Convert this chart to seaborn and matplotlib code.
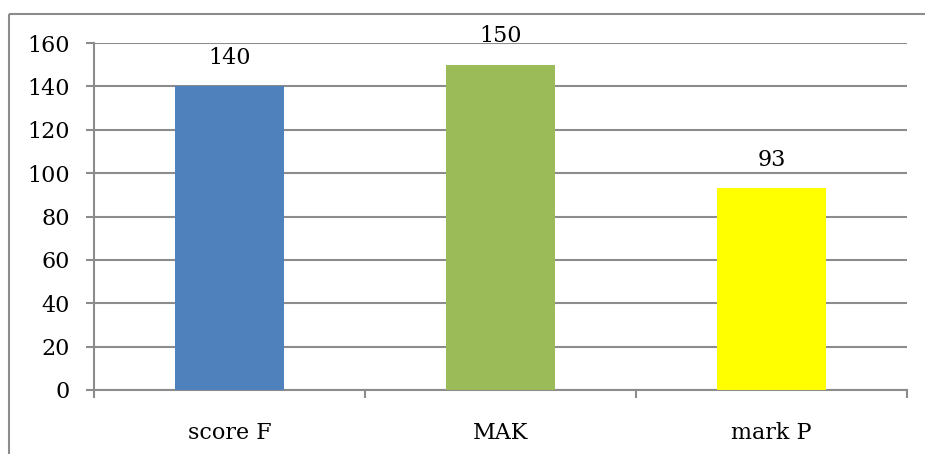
import numpy as np
import pandas as pd
import seaborn as sns
import matplotlib.pyplot as plt
from matplotlib.lines import Line2D
from matplotlib.ticker import FixedLocator

# chart data
categories = ['score F', 'MAK', 'mark P']
values = [140, 150, 93]
bar_colors = ['#4F81BD', '#9BBB59', '#FFFF00']
y_ticks = [0, 20, 40, 60, 80, 100, 120, 140, 160]

grid_color = '#8c8c8c'
fsize = 16
lw = 1.5


def main():
    sns.set_theme(style='white')
    plt.rcParams['font.family'] = ['DejaVu Serif']

    df = pd.DataFrame({'cat': categories, 'val': values})

    fig = plt.figure(figsize=(9.25, 4.54), dpi=100)
    ax = fig.add_axes([94 / 925, 1 - 390 / 454, (907 - 94) / 925, (390 - 43) / 454])

    sns.barplot(data=df, x='cat', y='val', hue='cat', palette=bar_colors,
                legend=False, width=0.4, saturation=1, linewidth=0, ax=ax, zorder=3)

    ax.set_xlim(-0.5, len(categories) - 0.5)
    ax.set_ylim(0, 160)
    ax.set_yticks(y_ticks)
    ax.set_xlabel('')
    ax.set_ylabel('')

    ax.yaxis.grid(True, color=grid_color, linewidth=lw, zorder=0)
    ax.set_axisbelow(True)
    for side in ['top', 'right']:
        ax.spines[side].set_visible(False)
    for side in ['left', 'bottom']:
        ax.spines[side].set_color(grid_color)
        ax.spines[side].set_linewidth(lw)

    # category separators as minor ticks
    ax.xaxis.set_minor_locator(FixedLocator(np.arange(-0.5, len(categories), 1.0)))
    ax.tick_params(axis='x', which='minor', length=5.8, width=lw, color=grid_color,
                   direction='out', bottom=True)
    ax.tick_params(axis='x', which='major', length=0, pad=23, labelsize=fsize,
                   labelcolor='black')
    ax.tick_params(axis='y', which='major', length=5.8, width=lw, color=grid_color,
                   direction='out', left=True, pad=11.5, labelsize=fsize,
                   labelcolor='black')

    # value labels
    for i, v in enumerate(values):
        ax.text(i, v + 8, str(v), ha='center', va='bottom', fontsize=fsize,
                color='black')

    # outer chart border (top and left edges only visible)
    bx, by = 8.5 / 925, 1 - 13.5 / 454
    fig.add_artist(Line2D([bx, 1.0], [by, by], transform=fig.transFigure,
                          color=grid_color, linewidth=lw, solid_capstyle='butt'))
    fig.add_artist(Line2D([bx, bx], [0.0, by], transform=fig.transFigure,
                          color=grid_color, linewidth=lw, solid_capstyle='butt'))

    fig.savefig('out.png', dpi=100)


if __name__ == "__main__":
    main()
